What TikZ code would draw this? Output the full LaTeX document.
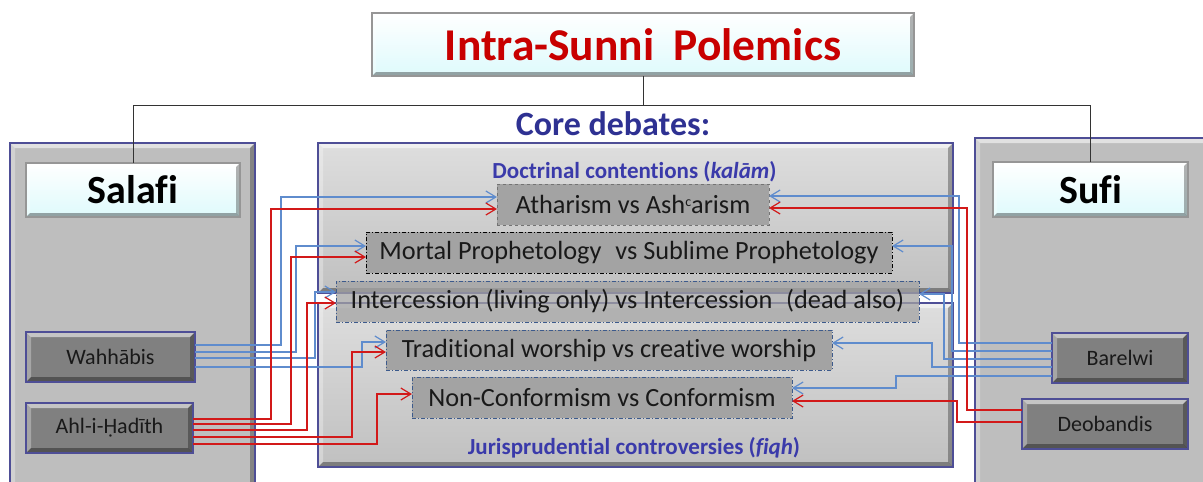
\documentclass[tikz,border=0pt]{standalone}
\usepackage{fontspec}
\setmainfont[Ligatures=NoCommon]{Carlito}
\usetikzlibrary{arrows.meta}

\definecolor{panelrim}{RGB}{78,78,150}
\definecolor{sidegray}{RGB}{190,190,190}
\definecolor{midtop}{RGB}{222,222,222}
\definecolor{midbot}{RGB}{192,192,192}
\definecolor{btngray}{RGB}{128,128,128}
\definecolor{debgray}{RGB}{163,163,163}
\definecolor{labelrim}{RGB}{150,150,150}
\definecolor{cyanpale}{RGB}{222,250,252}
\definecolor{titlered}{RGB}{200,0,0}
\definecolor{coreblue}{RGB}{46,49,146}
\definecolor{subblue}{RGB}{58,58,170}
\definecolor{debtext}{RGB}{25,25,25}
\definecolor{dashblue}{RGB}{60,90,140}
\definecolor{lineblue}{RGB}{95,140,205}
\definecolor{linered}{RGB}{210,25,25}

\newcommand{\ayn}{\raisebox{0.6ex}{\fontsize{14}{14}\selectfont c}}

\tikzset{
  bevel/.style={path picture={
    \fill[white,opacity=.55] (path picture bounding box.north west) -- (path picture bounding box.north east)
      -- ([shift={(-#1,-#1)}]path picture bounding box.north east) -- ([shift={(#1,-#1)}]path picture bounding box.north west) -- cycle;
    \fill[white,opacity=.3] (path picture bounding box.north west) -- ([shift={(#1,-#1)}]path picture bounding box.north west)
      -- ([shift={(#1,#1)}]path picture bounding box.south west) -- (path picture bounding box.south west) -- cycle;
    \fill[black,opacity=.35] (path picture bounding box.south west) -- (path picture bounding box.south east)
      -- ([shift={(-#1,#1)}]path picture bounding box.south east) -- ([shift={(#1,#1)}]path picture bounding box.south west) -- cycle;
    \fill[black,opacity=.3] (path picture bounding box.north east) -- (path picture bounding box.south east)
      -- ([shift={(-#1,#1)}]path picture bounding box.south east) -- ([shift={(-#1,-#1)}]path picture bounding box.north east) -- cycle;
  }},
  box/.style={inner sep=0pt, outer sep=0pt},
  sidepanel/.style={box, draw=panelrim, line width=1.6pt, fill=sidegray, bevel=5pt},
  midpanel/.style={box, draw=panelrim, line width=1.6pt, top color=midtop, bottom color=midbot, bevel=5pt},
  labelbox/.style={box, draw=labelrim, line width=1.2pt, top color=white, bottom color=cyanpale, bevel=4pt},
  groupbox/.style={box, draw=panelrim, line width=2pt, fill=btngray, bevel=5pt,
    text=debtext, font=\fontsize{22}{26}\selectfont},
  debate/.style={box, fill=debgray, line width=1pt, text=debtext, font=\fontsize{26.3}{30}\selectfont},
  dashdot/.style={dash pattern=on 4pt off 2pt on 1pt off 2pt},
  tipstyle/.style={-{Straight Barb[length=10pt,width=12pt]}},
  bl/.style={draw=lineblue, line width=1.2pt, tipstyle},
  rd/.style={draw=linered, line width=1.2pt, tipstyle},
  sublabel/.style={text=subblue, font=\bfseries\fontsize{23}{27}\selectfont, anchor=base},
}

\begin{document}
\begin{tikzpicture}[x=1pt,y=-1pt]
\useasboundingbox (0,0) rectangle (1203,482);
\clip (0,0) rectangle (1203,482);

% side and centre panels
\node[sidepanel, minimum width=245pt, minimum height=352pt] (panelL) at (132.5,319) {};
\node[sidepanel, minimum width=240pt, minimum height=357pt] (panelR) at (1095,316.5) {};
\node[midpanel, minimum width=635pt, minimum height=150pt] (upper) at (635.5,218) {};
\node[midpanel, minimum width=635pt, minimum height=164pt] (lower) at (635.5,385) {};

% headings
\node[labelbox, minimum width=542pt, minimum height=63pt, text=titlered,
      font=\bfseries\fontsize{45.5}{52}\selectfont] (title) at (643,44.5) {Intra-Sunni\hspace{0.2em} Polemics};
\node[anchor=base, text=coreblue, font=\bfseries\fontsize{34}{40}\selectfont] (core) at (613,135) {Core debates:};
\node[labelbox, minimum width=214pt, minimum height=54pt, font=\bfseries\fontsize{40}{46}\selectfont] (salafi) at (133,190) {Salafi};
\node[labelbox, minimum width=195pt, minimum height=55pt, font=\bfseries\fontsize{40}{46}\selectfont] (sufi) at (1090.5,189.5) {Sufi};

% tree from the title
\draw[black!80, line width=1pt] (title.south) -- (title.south |- 0,105) coordinate (fork);
\draw[black!80, line width=1pt] (fork) -| (salafi.north);
\draw[black!80, line width=1pt] (fork) -| (sufi.north);

% section labels
\node[sublabel] (doct) at (634.5,178) {Doctrinal contentions (\textit{kalām})};
\node[sublabel] (juris) at (634,454) {Jurisprudential controversies (\textit{fiqh})};

% groups
\node[groupbox, minimum width=169pt, minimum height=50pt] (wah) at (110.5,357) {Wahhābis};
\node[groupbox, minimum width=167pt, minimum height=50pt] (ahl) at (109.5,428) {Ahl-i-Ḥadīth};
\node[groupbox, minimum width=136pt, minimum height=50pt] (bar) at (1120,358) {Barelwi};
\node[groupbox, minimum width=166pt, minimum height=50pt] (deo) at (1105,424) {Deobandis};

% debates
\node[debate, draw=black!55, dashed, minimum width=272pt, minimum height=41pt] (ath) at (633,204.5)
  {Atharism vs Ash\ayn arism};
\node[debate, draw=black, dashdot, minimum width=526pt, minimum height=41pt] (mor) at (629,252.5)
  {Mortal Prophetology\hspace{0.3em} vs Sublime Prophetology};
\node[debate, draw=dashblue, dashdot, fill opacity=.75, text opacity=1, minimum width=583pt, minimum height=41pt] (int) at (627.5,301.5)
  {Intercession (living only) vs Intercession\hspace{0.3em} (dead also)};
\node[debate, draw=dashblue, dashdot, minimum width=446pt, minimum height=40pt] (tra) at (609,350)
  {Traditional worship vs creative worship};
\node[debate, draw=dashblue, dashdot, minimum width=380pt, minimum height=41pt] (con) at (602,397.5)
  {Non-Conformism vs Conformism};

% Wahhabi links
\draw[bl] (wah.east |- 0,345) -| (281,197) -- (ath.west |- 0,197);
\draw[bl] (wah.east |- 0,352) -| (296,246) -- (mor.west |- 0,246);
\draw[bl] (wah.east |- 0,358) -| (315,292) -- (int.west |- 0,292);
\draw[bl] (wah.east |- 0,367) -| (362,342) -- (tra.west |- 0,342);

% Ahl-i-Hadith links
\draw[rd] (ahl.east |- 0,419) -| (271,209) -- (ath.west |- 0,209);
\draw[rd] (ahl.east |- 0,424) -| (291,257) -- (mor.west |- 0,257);
\draw[rd] (ahl.east |- 0,430) -| (307,303) -- (int.west |- 0,303);
\draw[rd] (ahl.east |- 0,437) -| (352,352) -- (tra.west |- 0,352);
\draw[rd] (ahl.east |- 0,444) -| (377,394) -- (con.west |- 0,394);

% Barelwi links
\draw[bl] (bar.west |- 0,343) -| (959,196) -- (ath.east |- 0,196);
\draw[bl] (bar.west |- 0,351) -| (952,246) -- (mor.east |- 0,246);
\draw[bl] (bar.west |- 0,359) -| (944,294) -- (int.east |- 0,294);
\draw[bl] (bar.west |- 0,367) -| (932,343) -- (tra.east |- 0,343);
\draw[bl] (bar.west |- 0,376) -| (896,388) -- (con.east |- 0,388);

% Deobandi links
\draw[rd] (deo.west |- 0,410) -| (967,208) -- (ath.east |- 0,208);
\draw[rd] (deo.west |- 0,422) -| (957,401) -- (con.east |- 0,401);
\end{tikzpicture}
\end{document}
